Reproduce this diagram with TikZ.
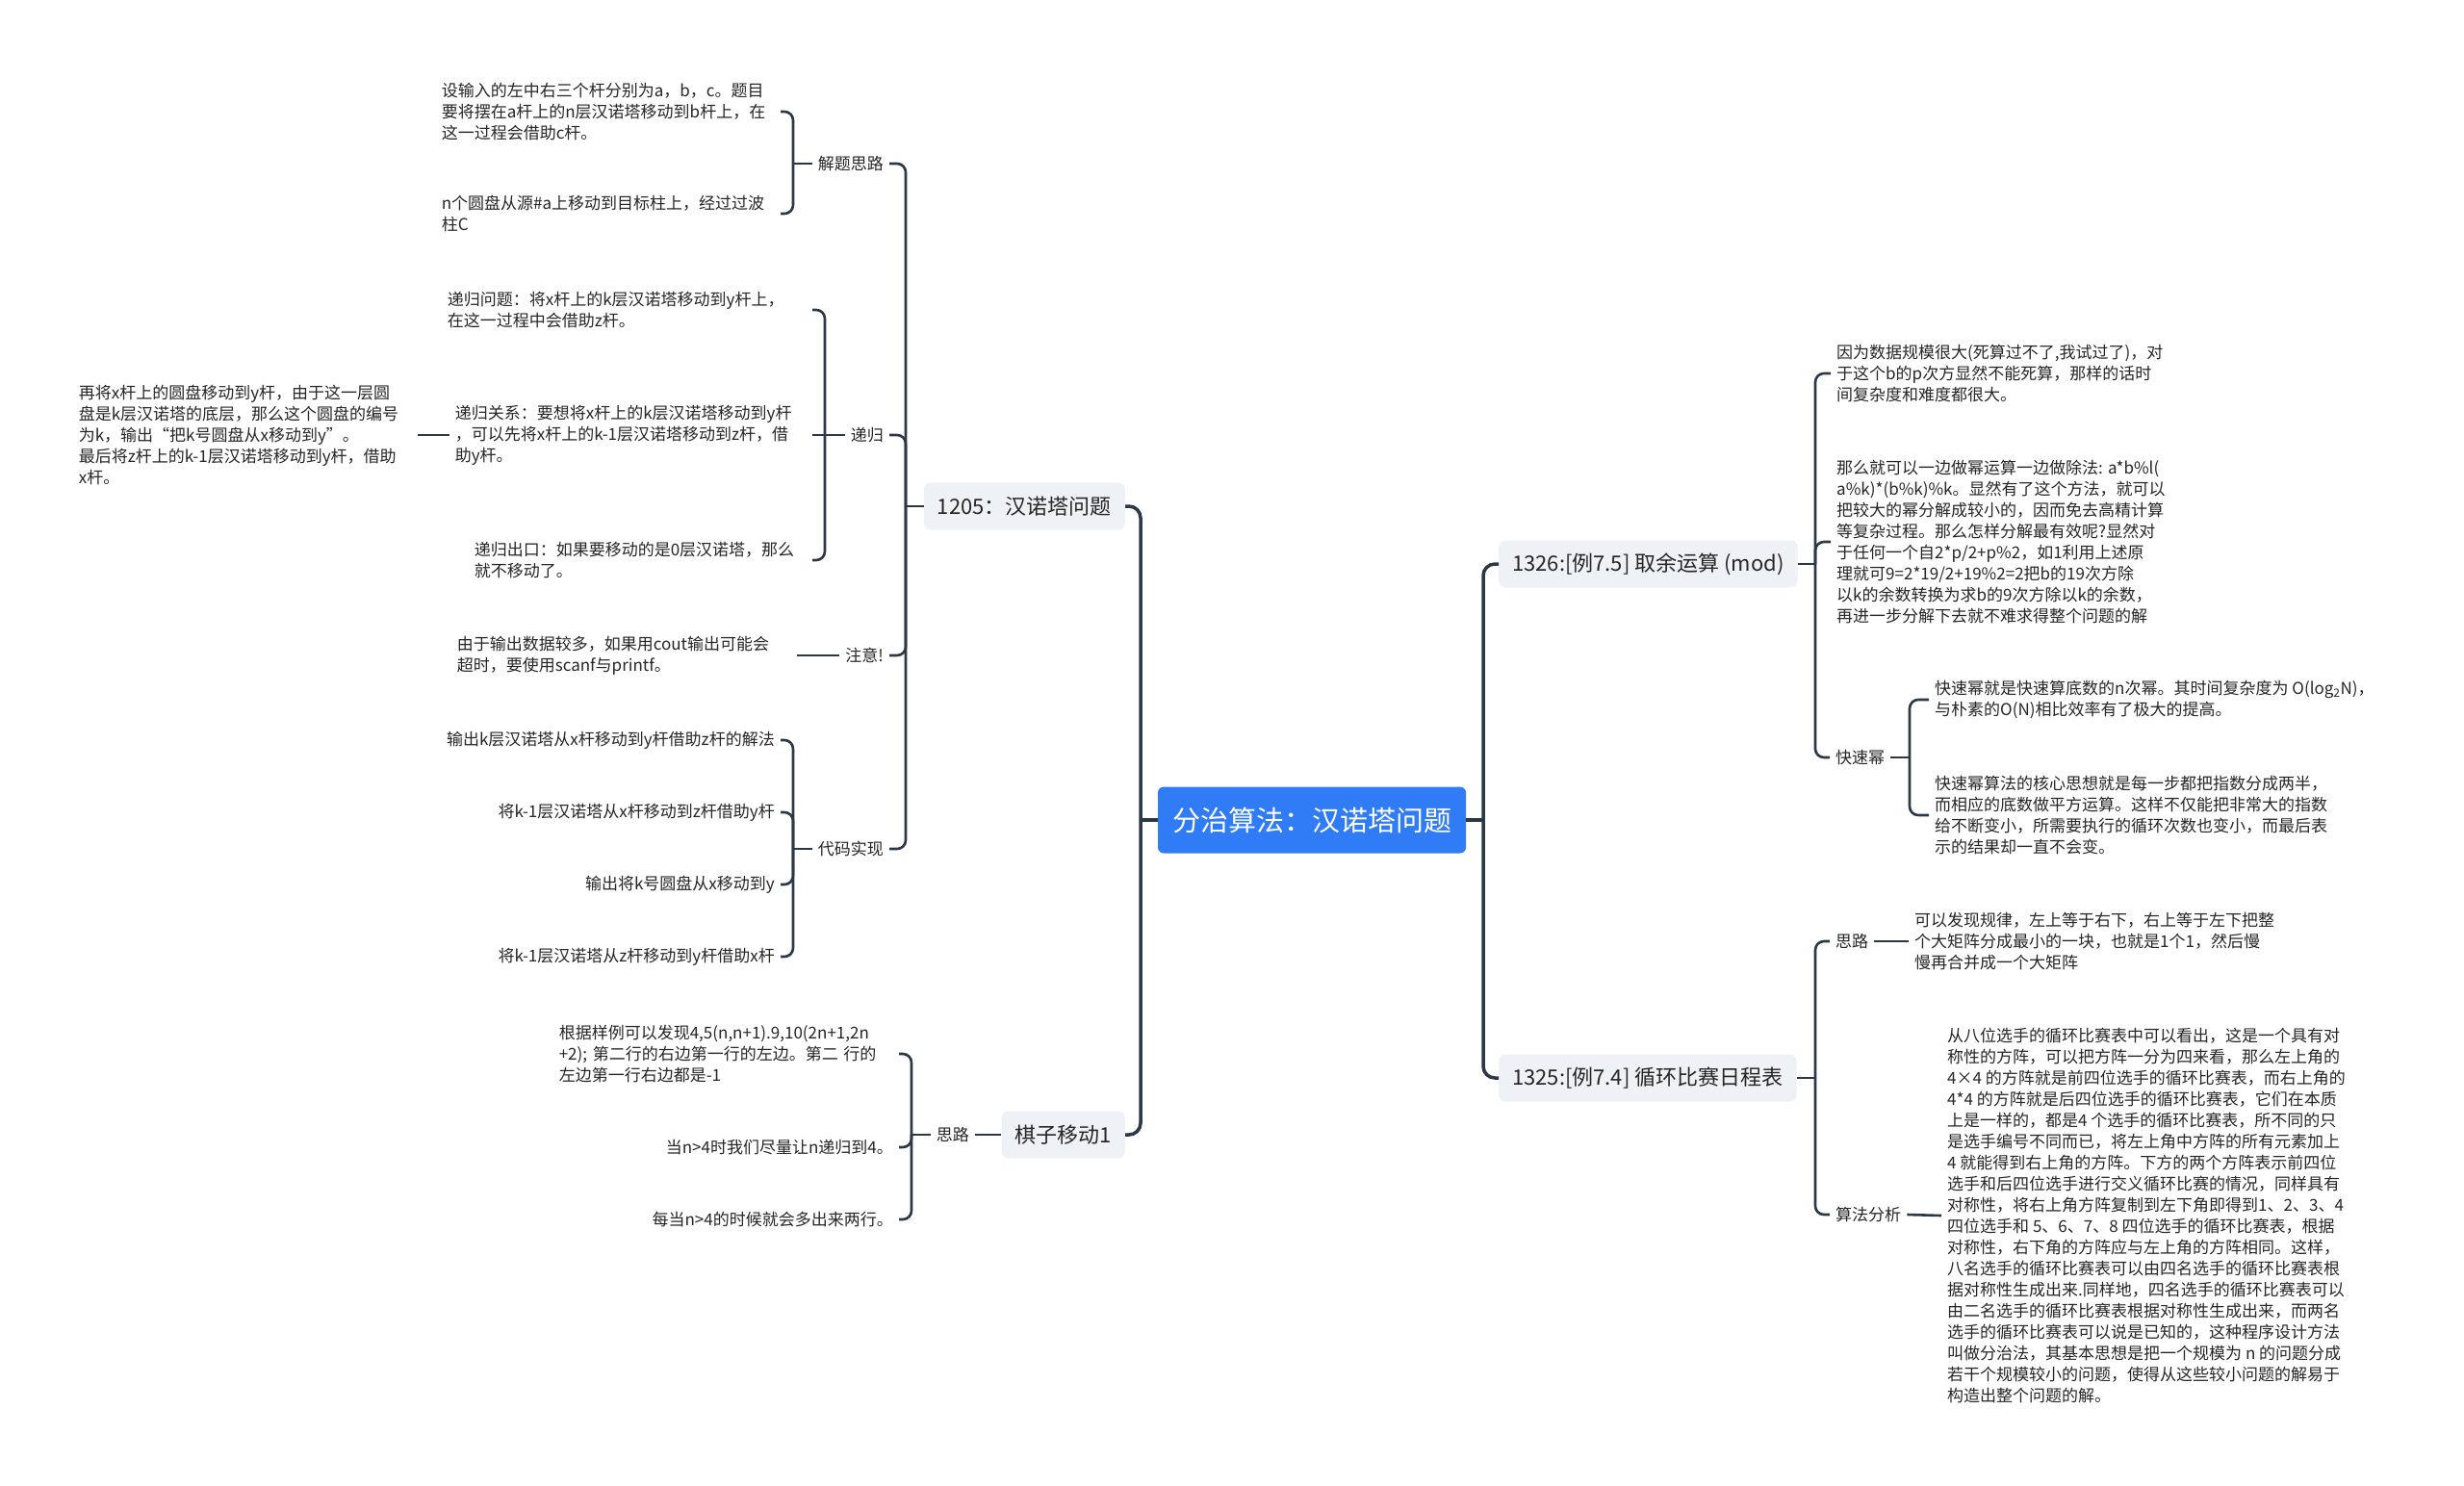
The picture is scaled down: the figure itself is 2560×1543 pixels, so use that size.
\documentclass[tikz,border=0pt]{standalone}
\usepackage{fontspec}
\setmainfont{Noto Sans CJK SC}
\usepackage{xcolor}
\usetikzlibrary{positioning}
\definecolor{linecol}{HTML}{2B3848}
\definecolor{rootblue}{HTML}{2F7CF6}
\definecolor{topicgray}{HTML}{EEF1F5}

\begin{document}
\begin{tikzpicture}[x=1pt, y=-1pt,
    root_box/.style={rectangle, rounded corners=6pt, fill=rootblue, text=white, inner xsep=15pt, minimum height=69pt, font=\fontsize{29}{34}\selectfont},
    topic_box/.style={rectangle, rounded corners=7pt, fill=topicgray, text=black!85, inner xsep=14pt, minimum height=49pt, font=\fontsize{22}{26}\selectfont},
    label_txt/.style={inner xsep=6pt, text=black!85, font=\fontsize{17}{22}\selectfont},
    leaf_txt/.style={inner xsep=6pt, align=left, text=black!85, font=\fontsize{17}{22}\selectfont},
    main_conn/.style={draw=linecol, line width=3.5pt, rounded corners=12pt},
    conn/.style={draw=linecol, line width=2.6pt, rounded corners=9pt}
]
    \fill[white] (0,0) rectangle (2560,1543);
    \useasboundingbox (0,0) rectangle (2560,1543);

    \node[root_box] (root) at (1363,852) {分治算法：汉诺塔问题};
    \node[topic_box, anchor=east] (hanoi) at (1169,526) {1205：汉诺塔问题};
    \node[topic_box, anchor=east] (qizi) at (1169,1179) {棋子移动1};
    \node[topic_box, anchor=west] (mod) at (1557,586) {1326:[例7.5] 取余运算 (mod)};
    \node[topic_box, anchor=west] (sched) at (1557,1120) {1325:[例7.4] 循环比赛日程表};

    \node[label_txt, anchor=east] (jt_lbl) at (924,170) {解题思路};
    \node[label_txt, anchor=east] (dg_lbl) at (924,452) {递归};
    \node[label_txt, anchor=east] (zy_lbl) at (924,681) {注意!};
    \node[label_txt, anchor=east] (dm_lbl) at (924,882) {代码实现};
    \node[label_txt, anchor=east] (sl_lbl) at (1013,1179) {思路};
    \node[label_txt, anchor=west] (ksm_lbl) at (1901,787) {快速幂};
    \node[label_txt, anchor=west] (sr_lbl) at (1901,978) {思路};
    \node[label_txt, anchor=west] (sf_lbl) at (1901,1262) {算法分析};

    \node[leaf_txt, anchor=east, text width=346pt] (jt1) at (811,116) {设输入的左中右三个杆分别为a，b，c。题目\\要将摆在a杆上的n层汉诺塔移动到b杆上，在\\这一过程会借助c杆。};
    \node[leaf_txt, anchor=east, text width=346pt] (jt2) at (811,222) {n个圆盘从源\#a上移动到目标柱上，经过过波\\柱C};
    \node[leaf_txt, anchor=east, text width=373pt] (dg1) at (844,322) {递归问题：将x杆上的k层汉诺塔移动到y杆上，\\在这一过程中会借助z杆。};
    \node[leaf_txt, anchor=east, text width=365pt] (dg2) at (844,452) {递归关系：要想将x杆上的k层汉诺塔移动到y杆\\，可以先将x杆上的k-1层汉诺塔移动到z杆，借\\助y杆。};
    \node[leaf_txt, anchor=east, text width=345pt] (dg3) at (844,582) {递归出口：如果要移动的是0层汉诺塔，那么\\就不移动了。};
    \node[leaf_txt, anchor=east, text width=346pt] (dg2a) at (434,452) {再将x杆上的圆盘移动到y杆，由于这一层圆\\盘是k层汉诺塔的底层，那么这个圆盘的编号\\为k，输出“把k号圆盘从x移动到y”。\\最后将z杆上的k-1层汉诺塔移动到y杆，借助\\x杆。};
    \node[leaf_txt, anchor=east, text width=347pt] (zy1) at (828,681) {由于输出数据较多，如果用cout输出可能会\\超时，要使用scanf与printf。};
    \node[leaf_txt, anchor=east] (dm1) at (811,769) {输出k层汉诺塔从x杆移动到y杆借助z杆的解法};
    \node[leaf_txt, anchor=east] (dm2) at (811,844) {将k-1层汉诺塔从x杆移动到z杆借助y杆};
    \node[leaf_txt, anchor=east] (dm3) at (811,919) {输出将k号圆盘从x移动到y};
    \node[leaf_txt, anchor=east] (dm4) at (811,994) {将k-1层汉诺塔从z杆移动到y杆借助x杆};
    \node[leaf_txt, anchor=east, text width=347pt] (sl1) at (934,1095) {根据样例可以发现4,5(n,n+1).9,10(2n+1,2n\\+2);~第二行的右边第一行的左边。第二~行的\\左边第一行右边都是-1};
    \node[leaf_txt, anchor=east] (sl2) at (934,1192) {当n>4时我们尽量让n递归到4。};
    \node[leaf_txt, anchor=east] (sl3) at (934,1267) {每当n>4的时候就会多出来两行。};

    \node[leaf_txt, anchor=west] (md1) at (1902,388) {因为数据规模很大(死算过不了,我试过了)，对\\于这个b的p次方显然不能死算，那样的话时\\间复杂度和难度都很大。};
    \node[leaf_txt, anchor=west] (md2) at (1902,563) {那么就可以一边做幂运算一边做除法: a*b\%l(\\a\%k)*(b\%k)\%k。显然有了这个方法，就可以\\把较大的幂分解成较小的，因而免去高精计算\\等复杂过程。那么怎样分解最有效呢?显然对\\于任何一个自2*p/2+p\%2，如1利用上述原\\理就可9=2*19/2+19\%2=2把b的19次方除\\以k的余数转换为求b的9次方除以k的余数，\\再进一步分解下去就不难求得整个问题的解};
    \node[leaf_txt, anchor=west] (ksm1) at (2004,727) {快速幂就是快速算底数的n次幂。其时间复杂度为 O(log\textsubscript{2}N)，\\与朴素的O(N)相比效率有了极大的提高。};
    \node[leaf_txt, anchor=west] (ksm2) at (2004,847) {快速幂算法的核心思想就是每一步都把指数分成两半，\\而相应的底数做平方运算。这样不仅能把非常大的指数\\给不断变小，所需要执行的循环次数也变小，而最后表\\示的结果却一直不会变。};
    \node[leaf_txt, anchor=west] (sr1) at (1983,978) {可以发现规律，左上等于右下，右上等于左下把整\\个大矩阵分成最小的一块，也就是1个1，然后慢\\慢再合并成一个大矩阵};
    \node[leaf_txt, anchor=west] (sf1) at (2017,1263) {从八位选手的循环比赛表中可以看出，这是一个具有对\\称性的方阵，可以把方阵一分为四来看，那么左上角的\\4×4 的方阵就是前四位选手的循环比赛表，而右上角的\\4*4 的方阵就是后四位选手的循环比赛表，它们在本质\\上是一样的，都是4 个选手的循环比赛表，所不同的只\\是选手编号不同而已，将左上角中方阵的所有元素加上\\4 就能得到右上角的方阵。下方的两个方阵表示前四位\\选手和后四位选手进行交义循环比赛的情况，同样具有\\对称性，将右上角方阵复制到左下角即得到1、2、3、4\\四位选手和 5、6、7、8 四位选手的循环比赛表，根据\\对称性，右下角的方阵应与左上角的方阵相同。这样，\\八名选手的循环比赛表可以由四名选手的循环比赛表根\\据对称性生成出来.同样地，四名选手的循环比赛表可以\\由二名选手的循环比赛表根据对称性生成出来，而两名\\选手的循环比赛表可以说是已知的，这种程序设计方法\\叫做分治法，其基本思想是把一个规模为 n 的问题分成\\若干个规模较小的问题，使得从这些较小问题的解易于\\构造出整个问题的解。};

    \coordinate (jl) at (1185,852);
    \coordinate (jr) at (1541,852);
    \coordinate (j_hanoi) at (941,526);
    \coordinate (j_jt) at (824,170);
    \coordinate (j_dg) at (857,452);
    \coordinate (j_dm) at (824,882);
    \coordinate (j_sl) at (947,1179);
    \coordinate (j_mod) at (1886,586);
    \coordinate (j_ksm) at (1984,787);
    \coordinate (j_sched) at (1886,1120);

    \draw[main_conn] (root.west) -- (jl);
    \draw[main_conn] (jl) |- (hanoi.east);
    \draw[main_conn] (jl) |- (qizi.east);
    \draw[main_conn] (root.east) -- (jr);
    \draw[main_conn] (jr) |- (mod.west);
    \draw[main_conn] (jr) |- (sched.west);

    \draw[conn] (hanoi.west) -- (j_hanoi);
    \draw[conn] (j_hanoi) |- (jt_lbl.east);
    \draw[conn] (j_hanoi) |- (dg_lbl.east);
    \draw[conn] (j_hanoi) |- (zy_lbl.east);
    \draw[conn] (j_hanoi) |- (dm_lbl.east);
    \draw[conn] (jt_lbl.west) -- (j_jt);
    \draw[conn] (j_jt) |- (jt1.east);
    \draw[conn] (j_jt) |- (jt2.east);
    \draw[conn] (dg_lbl.west) -- (j_dg);
    \draw[conn] (j_dg) |- (dg1.east);
    \draw[conn] (j_dg) -- (dg2.east);
    \draw[conn] (j_dg) |- (dg3.east);
    \draw[conn] (dg2.west) -- (dg2a.east);
    \draw[conn] (zy_lbl.west) -- (zy1.east);
    \draw[conn] (dm_lbl.west) -- (j_dm);
    \draw[conn] (j_dm) |- (dm1.east);
    \draw[conn] (j_dm) |- (dm2.east);
    \draw[conn] (j_dm) |- (dm3.east);
    \draw[conn] (j_dm) |- (dm4.east);
    \draw[conn] (qizi.west) -- (sl_lbl.east);
    \draw[conn] (sl_lbl.west) -- (j_sl);
    \draw[conn] (j_sl) |- (sl1.east);
    \draw[conn] (j_sl) |- (sl2.east);
    \draw[conn] (j_sl) |- (sl3.east);

    \draw[conn] (mod.east) -- (j_mod);
    \draw[conn] (j_mod) |- (md1.west);
    \draw[conn] (j_mod) |- (md2.west);
    \draw[conn] (j_mod) |- (ksm_lbl.west);
    \draw[conn] (ksm_lbl.east) -- (j_ksm);
    \draw[conn] (j_ksm) |- (ksm1.west);
    \draw[conn] (j_ksm) |- (ksm2.west);
    \draw[conn] (sched.east) -- (j_sched);
    \draw[conn] (j_sched) |- (sr_lbl.west);
    \draw[conn] (j_sched) |- (sf_lbl.west);
    \draw[conn] (sr_lbl.east) -- (sr1.west);
    \draw[conn] (sf_lbl.east) -- (sf1.west);
\end{tikzpicture}
\end{document}
